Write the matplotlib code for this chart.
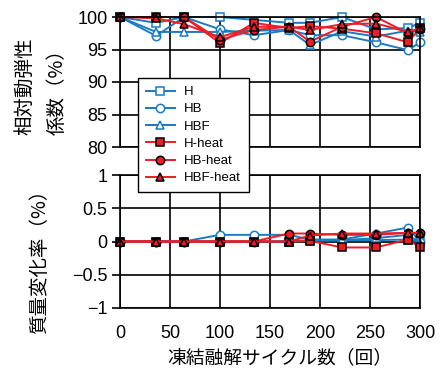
import matplotlib.pyplot as plt

plt.rcParams['font.family'] = ['Noto Sans CJK JP', 'DejaVu Sans']

# freeze-thaw cycles
cycles = [0, 36, 64, 100, 134, 169, 190, 222, 256, 288, 300]
cycles_h = [0, 36, 64, 100, 169, 190, 222, 256, 288, 300]

# relative dynamic modulus (%)
rdm_h = [100, 99.1, 100, 100, 99.1, 99.1, 100, 98.1, 98.3, 99.1]
rdm_hb = [100, 97.1, 100, 98.1, 97.2, 98.0, 97.2, 97.2, 96.1, 94.9, 96.1]
rdm_hbf = [100, 97.7, 97.7, 97.7, 97.9, 98.0, 95.7, 97.8, 97.0, 97.9, 97.7]
rdm_h_heat = [100, 100, 100, 96.0, 99.1, 98.3, 98.6, 98.2, 97.5, 96.1, 98.3]
rdm_hb_heat = [100, 100, 100, 96.5, 98.0, 98.5, 96.2, 98.5, 100, 97.5, 98.2]
rdm_hbf_heat = [100, 99.8, 98.9, 96.9, 98.5, 98.5, 98.0, 98.9, 99.0, 97.7, 98.3]

# mass change (%)
mass_h = [0, 0, 0, 0, 0, 0, 0.02, 0.02, 0.02, 0.03, 0]
mass_hb = [0, 0, 0, 0.1, 0.1, 0.1, 0.03, 0.03, 0.12, 0.21, 0]
mass_hbf = [0, 0, 0, 0, 0, 0, 0.01, 0.02, 0.05, 0.1, -0.02]
mass_h_heat = [0, 0, 0, 0, 0, 0, 0.01, -0.09, -0.09, 0.03, -0.09]
mass_hb_heat = [0, 0, 0, 0, 0, 0.12, 0.12, 0.1, 0.1, 0.13, 0.13]
mass_hbf_heat = [0, 0, 0, 0, 0, 0, 0.09, 0.12, 0.12, 0.13, 0.13]

xticks = [0, 50, 100, 150, 200, 250, 300]
rdm_ticks = [80, 85, 90, 95, 100]
mass_ticks = [-1, -0.5, 0, 0.5, 1]
mass_labels = ['\u22121', '\u22120.5', '0', '0.5', '1']

blue = '#1a7ac4'
red = '#ee1c25'
num_font = ['Liberation Sans', 'DejaVu Sans']

fig = plt.figure(figsize=(4.43, 3.72), dpi=100)
ax1 = fig.add_axes([120/443, 1-147/372, 300/443, 130/372])
ax2 = fig.add_axes([120/443, 1-308/372, 300/443, 133/372])


def style_axis(ax, ylim, yticks, ylabels, xlabels):
    ax.set_xlim(0, 300)
    ax.set_ylim(*ylim)
    ax.set_xticks(xticks)
    ax.set_xticklabels(xlabels, family=num_font)
    ax.set_yticks(yticks)
    ax.set_yticklabels(ylabels, family=num_font)
    ax.grid(True, color='black', lw=1.2)
    ax.set_axisbelow(True)
    for s in ax.spines.values():
        s.set_color('black')
        s.set_linewidth(1.2)
    ax.tick_params(axis='y', direction='out', length=6, width=1.2, labelsize=13, pad=3)
    ax.tick_params(axis='x', length=0, labelsize=13, pad=12)


def draw(ax, data):
    for xs, ys, c, m, fc, lab in data:
        ax.plot(xs, ys, color=c, lw=1.4, marker=m, markersize=6,
                markerfacecolor=fc, markeredgecolor=('black' if fc == red else c),
                markeredgewidth=1.1, label=lab, clip_on=False)


top_data = [
    (cycles_h, rdm_h, blue, 's', 'white', 'H'),
    (cycles, rdm_hb, blue, 'o', 'white', 'HB'),
    (cycles, rdm_hbf, blue, '^', 'white', 'HBF'),
    (cycles, rdm_h_heat, red, 's', red, 'H-heat'),
    (cycles, rdm_hb_heat, red, 'o', red, 'HB-heat'),
    (cycles, rdm_hbf_heat, red, '^', red, 'HBF-heat'),
]
bottom_data = [
    (cycles, mass_h, blue, 's', 'white', 'H'),
    (cycles, mass_hb, blue, 'o', 'white', 'HB'),
    (cycles, mass_hbf, blue, '^', 'white', 'HBF'),
    (cycles, mass_h_heat, red, 's', red, 'H-heat'),
    (cycles, mass_hb_heat, red, 'o', red, 'HB-heat'),
    (cycles, mass_hbf_heat, red, '^', red, 'HBF-heat'),
]

style_axis(ax1, (80, 100), rdm_ticks, [str(v) for v in rdm_ticks], [])
style_axis(ax2, (-1, 1), mass_ticks, mass_labels, [str(v) for v in xticks])
draw(ax1, top_data)
draw(ax2, bottom_data)

handles, labels = ax1.get_legend_handles_labels()
leg = fig.legend(handles, labels, loc='upper left', bbox_to_anchor=(138/443, 1-78/372),
                 prop={'family': num_font, 'size': 9.5}, frameon=True, fancybox=False,
                 framealpha=1, edgecolor='black', handlelength=2.2, labelspacing=0.38,
                 borderpad=0.6, handletextpad=0.7, borderaxespad=0)
leg.get_frame().set_linewidth(1.0)
leg.set_zorder(10)

fig.text(280/443, 1-359/372, '凍結融解サイクル数（回）', fontsize=13.5,
         ha='center', va='center')
fig.text(25/443, 1-135/372, '相対動弾性', rotation=90, fontsize=14,
         ha='center', va='bottom')
fig.text(57/443, 1-135/372, '係数（%）', rotation=90, fontsize=14,
         ha='center', va='bottom')
fig.text(40/443, 1-257/372, '質量変化率（%）', rotation=90, fontsize=14,
         ha='center', va='center')

fig.savefig('out.png', dpi=100)
